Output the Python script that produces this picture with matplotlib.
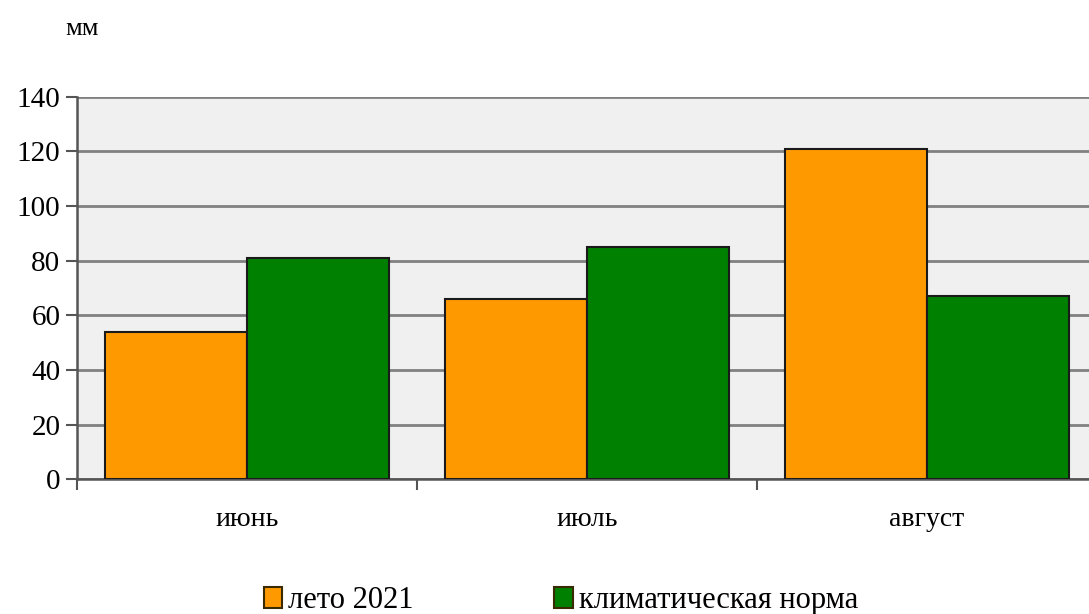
import matplotlib
matplotlib.use("Agg")
import matplotlib.pyplot as plt
import numpy as np

categories = ["июнь", "июль", "август"]
series_names = ["лето 2021", "климатическая норма"]
leto_2021 = [54, 66, 121]
norma = [81, 85, 67]
yticks = [0, 20, 40, 60, 80, 100, 120, 140]

colors = ["#FF9900", "#008000"]

plt.rcParams['font.family'] = ['Liberation Serif', 'DejaVu Serif']

fig = plt.figure(figsize=(10.89, 6.14), dpi=100)
ax = fig.add_axes([0.0707, 0.2194, 0.9366, 0.6231])
ax.set_facecolor("#f0f0f0")

x = np.arange(len(categories))
w = 0.418
ax.bar(x - w/2, leto_2021, width=w, color=colors[0], edgecolor="#1a1a1a", linewidth=1.5, label=series_names[0], zorder=3)
ax.bar(x + w/2, norma, width=w, color=colors[1], edgecolor="#1a1a1a", linewidth=1.5, label=series_names[1], zorder=3)

ax.set_xlim(-0.5, len(categories) - 0.5)
ax.set_ylim(0, 140)
ax.set_yticks(yticks)
ax.set_yticklabels([str(v) for v in yticks], fontsize=21)
ax.yaxis.grid(True, color="#808080", linewidth=2, zorder=1)
ax.set_axisbelow(True)

ax.set_xticks(np.arange(-0.5, len(categories), 1.0))
ax.set_xticklabels([])
ax.set_xticks(x, minor=True)
ax.set_xticklabels(categories, minor=True, fontsize=20)
ax.tick_params(axis='x', which='minor', length=0, pad=20)
ax.tick_params(axis='x', which='major', length=8, width=1.5, color="#555555", direction='out')
ax.tick_params(axis='y', length=8, width=1.5, color="#555555", pad=4)

for s in ["top", "right"]:
    ax.spines[s].set_visible(False)
for s in ["left", "bottom"]:
    ax.spines[s].set_color("#555555")
    ax.spines[s].set_linewidth(1.8)

fig.text(0.060, 0.953, "мм", fontsize=19, ha="left", va="center")

leg = fig.legend(loc="center", bbox_to_anchor=(0.515, 0.022), ncol=2, frameon=False,
                 fontsize=22, handlelength=0.6, handleheight=0.7, handletextpad=0.2,
                 columnspacing=4.6)
for h in leg.legend_handles:
    h.set_edgecolor("#3a2a00")

fig.savefig("out.png", dpi=100)
